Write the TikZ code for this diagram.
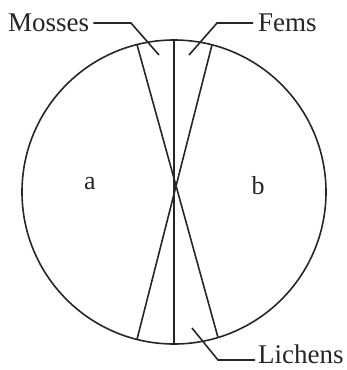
\documentclass[tikz,border=0pt]{standalone}
\usepackage{fontspec}
\setmainfont{Liberation Serif}
\begin{document}
\begin{tikzpicture}[x=1pt,y=-1pt,
  line/.style={line width=1.6pt,black!85},
  lbl/.style={inner sep=0pt,font=\fontsize{27}{30}\selectfont,text=black!85},
  region/.style={inner sep=0pt,font=\fontsize{26}{30}\selectfont,text=black!85}]
\useasboundingbox (0,0) rectangle (346,370);
\coordinate (C) at (174,192);
\draw[line] (C) circle[radius=152];
% vertical and crossing lines
\coordinate (vt) at (174,40);
\coordinate (vb) at (174,344);
\coordinate (lt) at (137,44.6);
\coordinate (rb) at (218,337.5);
\coordinate (rt) at (212,44.8);
\coordinate (lb) at (137,339.4);
\draw[line] (vt) -- (vb);
\draw[line] (lt) -- (rb);
\draw[line] (rt) -- (lb);
% labels
\node[lbl,anchor=base west] (mosses) at (8,31) {Mosses};
\node[lbl,anchor=base west] (ferns) at (258,31) {Fems};
\node[lbl,anchor=base west] (lichens) at (258,363) {Lichens};
\node[region,anchor=base] (a) at (90,189) {a};
\node[region,anchor=base] (b) at (258,194) {b};
% leaders
\coordinate (m1) at (131,23);
\coordinate (m2) at (159,55);
\draw[line] (mosses.east |- m1) ++(4,0) -- (m1) -- (m2);
\coordinate (f1) at (217,23);
\coordinate (f2) at (189,55);
\draw[line] (ferns.west |- f1) ++(-5,0) -- (f1) -- (f2);
\coordinate (l1) at (218,360);
\coordinate (l2) at (192,328);
\draw[line] (lichens.west |- l1) ++(-3,0) -- (l1) -- (l2);
\end{tikzpicture}
\end{document}
